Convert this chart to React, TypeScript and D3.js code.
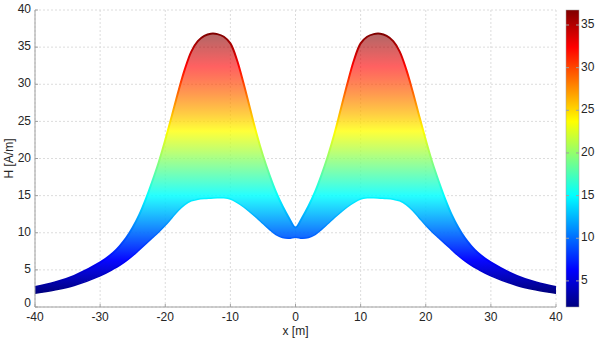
import React from "react";
import * as d3 from "d3";

// x positions [m]
const xHalf = [-40, -37, -34, -30, -28, -27, -26, -25, -24, -23, -22, -21, -20, -19, -18, -17, -16, -15, -14, -13, -12, -11, -10, -9, -8, -7, -6, -5, -4, -3, -2, -1, 0];
// upper envelope H [A/m] (left half, mirrored for right)
const upperHalf = [2.7, 3.3, 4.2, 6.0, 7.3, 8.2, 9.3, 10.7, 12.4, 14.5, 16.9, 19.5, 22.5, 25.7, 29.0, 32.0, 34.4, 35.8, 36.5, 36.8, 36.75, 36.4, 35.5, 33.3, 30.2, 26.8, 23.4, 20.4, 17.8, 15.5, 13.6, 12.0, 10.7];
// lower envelope H [A/m]
const lowerHalf = [1.85, 2.3, 2.9, 4.2, 5.1, 5.6, 6.2, 6.9, 7.7, 8.5, 9.3, 10.1, 11.0, 12.0, 13.0, 13.8, 14.3, 14.5, 14.6, 14.65, 14.7, 14.7, 14.55, 14.1, 13.5, 12.8, 12.05, 11.25, 10.45, 9.75, 9.35, 9.25, 9.4];

const xs = [...xHalf, ...xHalf.slice(0, -1).reverse().map((v) => -v)];
const upper = [...upperHalf, ...upperHalf.slice(0, -1).reverse()];
const lower = [...lowerHalf, ...lowerHalf.slice(0, -1).reverse()];

const xTicks = [-40, -30, -20, -10, 0, 10, 20, 30, 40];
const yTicks = [0, 5, 10, 15, 20, 25, 30, 35, 40];
const cTicks = [5, 10, 15, 20, 25, 30, 35];
const cMin = 1.94;
const cMax = 36.76;

// jet colormap breakpoints: [t, colour, fill opacity inside the band]
const jetStops: [number, string, number][] = [
  [0, "rgb(0,0,128)", 1],
  [0.125, "rgb(0,0,255)", 0.97],
  [0.375, "rgb(0,255,255)", 0.85],
  [0.625, "rgb(255,255,0)", 0.78],
  [0.875, "rgb(255,0,0)", 0.62],
  [1, "rgb(128,0,0)", 0.6],
];

const W = 599;
const H = 339;
const left = 35;
const right = 556;
const top = 10;
const bottom = 307;

export default function App() {
  const x = d3.scaleLinear().domain([-40, 40]).range([left, right]);
  const y = d3.scaleLinear().domain([0, 40]).range([bottom, top]);
  const cy = d3.scaleLinear().domain([cMin, cMax]).range([bottom, top]);
  const data = xs.map((v, i) => ({ x: v, lo: lower[i], hi: upper[i] }));
  const curve = d3.curveCatmullRom.alpha(0.5);
  const area = d3
    .area<any>()
    .x((d) => x(d.x))
    .y0((d) => y(d.lo))
    .y1((d) => y(d.hi))
    .curve(curve);
  const lineHi = d3.line<any>().x((d) => x(d.x)).y((d) => y(d.hi)).curve(curve);
  const lineLo = d3.line<any>().x((d) => x(d.x)).y((d) => y(d.lo)).curve(curve);
  const font = "'Liberation Sans', Arial, Helvetica, sans-serif";
  const txt = "#262626";
  return (
    <svg width={W} height={H} style={{ position: "absolute", left: 0, top: 0 }} fontFamily={font}>
      <defs>
        <linearGradient id="jetFill" gradientUnits="userSpaceOnUse" x1={0} x2={0} y1={y(cMin)} y2={y(cMax)}>
          {jetStops.map(([t, c, o]) => (
            <stop key={t} offset={t} stopColor={c} stopOpacity={o} />
          ))}
        </linearGradient>
        <linearGradient id="jetPlot" gradientUnits="userSpaceOnUse" x1={0} x2={0} y1={y(cMin)} y2={y(cMax)}>
          {jetStops.map(([t, c]) => (
            <stop key={t} offset={t} stopColor={c} />
          ))}
        </linearGradient>
        <linearGradient id="jetBar" gradientUnits="userSpaceOnUse" x1={0} x2={0} y1={cy(cMin)} y2={cy(cMax)}>
          {jetStops.map(([t, c]) => (
            <stop key={t} offset={t} stopColor={c} />
          ))}
        </linearGradient>
      </defs>
      <rect x={0} y={0} width={W} height={H} fill="#fff" />
      {/* grid */}
      {xTicks.map((t) => (
        <line key={"gx" + t} x1={x(t)} x2={x(t)} y1={top} y2={bottom} stroke="#dcdcdc" strokeDasharray="2,2" />
      ))}
      {yTicks.map((t) => (
        <line key={"gy" + t} x1={left} x2={right} y1={y(t)} y2={y(t)} stroke="#dcdcdc" strokeDasharray="2,2" />
      ))}
      {/* band */}
      <path d={area(data) || ""} fill="url(#jetFill)" />
      <path d={lineHi(data) || ""} fill="none" stroke="url(#jetPlot)" strokeWidth={2} />
      <path d={lineLo(data) || ""} fill="none" stroke="url(#jetPlot)" strokeWidth={1.5} />
      {/* axes */}
      <line x1={left} x2={left} y1={top} y2={bottom} stroke="#a0a0a0" />
      <line x1={left} x2={right} y1={bottom} y2={bottom} stroke="#a0a0a0" />
      {xTicks.map((t) => (
        <g key={"xt" + t}>
          <line x1={x(t)} x2={x(t)} y1={bottom} y2={bottom - 3} stroke="#a0a0a0" />
          <text x={x(t)} y={318} fontSize={12} fill={txt} textAnchor="middle" dominantBaseline="middle">
            {t}
          </text>
        </g>
      ))}
      {yTicks.map((t) => (
        <g key={"yt" + t}>
          <line x1={left} x2={left + 3} y1={y(t)} y2={y(t)} stroke="#a0a0a0" />
          <text x={31} y={y(t) - (t === 0 ? 3.5 : 0)} fontSize={12} fill={txt} textAnchor="end" dominantBaseline="middle">
            {t}
          </text>
        </g>
      ))}
      <text x={x(0)} y={332} fontSize={12} fill={txt} textAnchor="middle" dominantBaseline="middle">
        x [m]
      </text>
      <text
        transform={`translate(10,${(top + bottom) / 2}) rotate(-90)`}
        fontSize={12}
        fill={txt}
        textAnchor="middle"
        dominantBaseline="middle"
      >
        H [A/m]
      </text>
      {/* colorbar */}
      <rect x={566} y={top} width={13} height={bottom - top} fill="url(#jetBar)" stroke="#a0a0a0" strokeWidth={0.5} />
      {cTicks.map((t) => (
        <g key={"ct" + t}>
          <line x1={579} x2={576} y1={cy(t)} y2={cy(t)} stroke="#a0a0a0" />
          <line x1={566} x2={569} y1={cy(t)} y2={cy(t)} stroke="#a0a0a0" />
          <text x={581} y={cy(t)} fontSize={12} fill={txt} textAnchor="start" dominantBaseline="middle">
            {t}
          </text>
        </g>
      ))}
    </svg>
  );
}
